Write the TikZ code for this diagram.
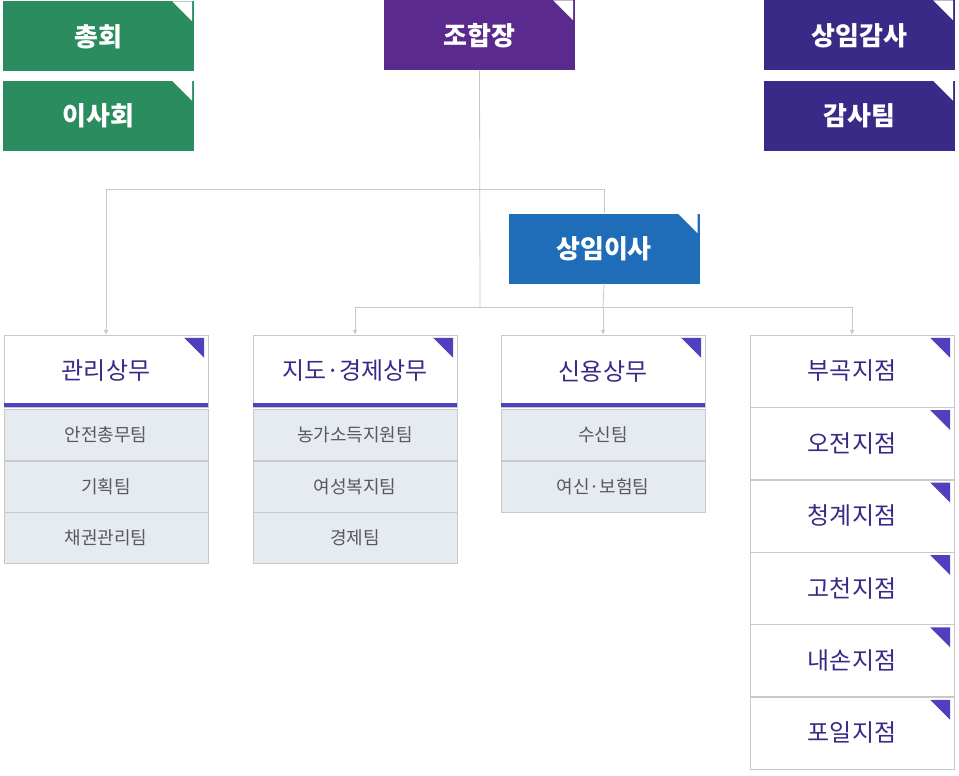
\documentclass[tikz,border=0pt]{standalone}
\usepackage{fontspec}
\setmainfont{Noto Sans CJK KR}
\usetikzlibrary{arrows.meta,positioning}
\tikzset{>={Latex[length=1.6mm,width=1.6mm]}}
\definecolor{grn}{HTML}{2A8C5F}
\definecolor{pur}{HTML}{5B2A8E}
\definecolor{dpur}{HTML}{3A2A88}
\definecolor{blu}{HTML}{1F6DB8}
\definecolor{line}{HTML}{C8C8C8}
\definecolor{acc}{HTML}{5040C0}
\definecolor{row}{HTML}{E6EBF2}
\begin{document}
\begin{tikzpicture}[x=1pt,y=-1pt,
  top/.style={minimum width=191pt,minimum height=70pt,inner sep=0,text=white,font=\bfseries\fontsize{26}{26}\selectfont},
  head/.style={draw=line,fill=white,minimum width=204pt,minimum height=72pt,inner sep=0,text=dpur,font=\fontsize{24}{24}\selectfont},
  team/.style={draw=line,fill=row,minimum width=204pt,minimum height=51pt,inner sep=0,text=black!65,font=\fontsize{18}{18}\selectfont},
  conn/.style={line,thick},
  wtri/.style={fill=white},
  ptri/.style={fill=acc}]
\useasboundingbox (0,0) rectangle (959,776);
% top boxes
\node[top,fill=grn] (chong) at (98.5,36.5) {총회};
\node[top,fill=grn] (isa) at (98.5,116) {이사회};
\node[top,fill=pur] (jhj) at (479.5,35.5) {조합장};
\node[top,fill=dpur] (gamsa) at (859.5,35.5) {상임감사};
\node[top,fill=dpur] (gtim) at (859.5,116) {감사팀};
\node[top,fill=blu] (isaj) at (604,248.5) {상임이사};
\foreach \n in {chong,isa,jhj,gamsa,gtim,isaj}
  \fill[wtri] (\n.north east) ++(-22,0) -- ++(20,0) -- ++(0,20) -- cycle;
% departments
\node[head] (d1) at (106,371) {관리상무};
\node[head] (d2) at (355,371) {지도·경제상무};
\node[head] (d3) at (603,371) {신용상무};
\node[team,below=2pt of d1] (t11) {안전총무팀};
\node[team,below=0pt of t11] (t12) {기획팀};
\node[team,below=0pt of t12] (t13) {채권관리팀};
\node[team,below=2pt of d2] (t21) {농가소득지원팀};
\node[team,below=0pt of t21] (t22) {여성복지팀};
\node[team,below=0pt of t22] (t23) {경제팀};
\node[team,below=2pt of d3] (t31) {수신팀};
\node[team,below=0pt of t31] (t32) {여신·보험팀};
\foreach \n in {d1,d2,d3}
  \fill[acc] (\n.south west) rectangle ++(204,-4);
% branches
\node[head] (b1) at (852,371) {부곡지점};
\node[head,below=0pt of b1] (b2) {오전지점};
\node[head,below=0pt of b2] (b3) {청계지점};
\node[head,below=0pt of b3] (b4) {고천지점};
\node[head,below=0pt of b4] (b5) {내손지점};
\node[head,below=0pt of b5] (b6) {포일지점};
\foreach \n in {d1,d2,d3,b1,b2,b3,b4,b5,b6}
  \fill[ptri] (\n.north east) ++(-24,3) -- ++(20,0) -- ++(0,20) -- cycle;
% connectors
\coordinate (j1) at (480,189);
\coordinate (j2) at (480,307);
\draw[conn] (jhj.south) -- (j2);
\draw[conn,->] (j1) -| (d1.north);
\draw[conn] (j1) -| (isaj.north);
\draw[conn] (isaj.south) -- (603,307);
\draw[conn,->] (j2) -| (d2.north);
\draw[conn,->] (603,307) -- (d3.north);
\draw[conn,->] (j2) -| (b1.north);
\end{tikzpicture}
\end{document}
